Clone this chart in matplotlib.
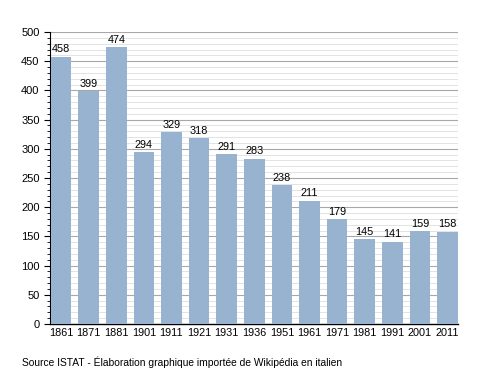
import matplotlib
matplotlib.use("Agg")
import matplotlib.pyplot as plt
from matplotlib.ticker import MultipleLocator

years = ["1861", "1871", "1881", "1901", "1911", "1921", "1931", "1936",
         "1951", "1961", "1971", "1981", "1991", "2001", "2011"]
population = [458, 399, 474, 294, 329, 318, 291, 283, 238, 211, 179, 145, 141, 159, 158]

plt.rcParams['font.family'] = ['Liberation Sans', 'DejaVu Sans']

fig = plt.figure(figsize=(4.88, 3.73), dpi=100)
ax = fig.add_axes([50/488, 1 - 324/373, 408/488, 292/373])

x = list(range(len(years)))
ax.bar(x, population, width=0.75, color='#98b3cf', zorder=3)
for xi, v in zip(x, population):
    ax.text(xi, v + 4, str(v), ha='center', va='bottom', fontsize=7.8, color='black', zorder=4)

ax.set_xlim(-0.4, len(years) - 1 + 0.38)
ax.set_ylim(0, 500)
ax.yaxis.set_major_locator(MultipleLocator(50))
ax.yaxis.set_minor_locator(MultipleLocator(10))
ax.grid(which='major', axis='y', color='#a8a8a8', linewidth=0.8, zorder=0)
ax.grid(which='minor', axis='y', color='#dedede', linewidth=0.6, zorder=0)
ax.set_xticks(x)
ax.set_xticklabels(years)
ax.tick_params(axis='x', length=0, labelsize=7.8, pad=3)
ax.tick_params(axis='y', which='major', length=4, labelsize=8, direction='out')
ax.tick_params(axis='y', which='minor', length=2, direction='out')
for s in ['top', 'right']:
    ax.spines[s].set_visible(False)
ax.spines['left'].set_linewidth(0.8)
ax.spines['bottom'].set_linewidth(1.0)

fig.text(22/488, 1 - 362/373, "Source ISTAT - Élaboration graphique importée de Wikipédia en italien",
         fontsize=7.4, ha='left', va='center')

fig.savefig("out.png", dpi=100)
